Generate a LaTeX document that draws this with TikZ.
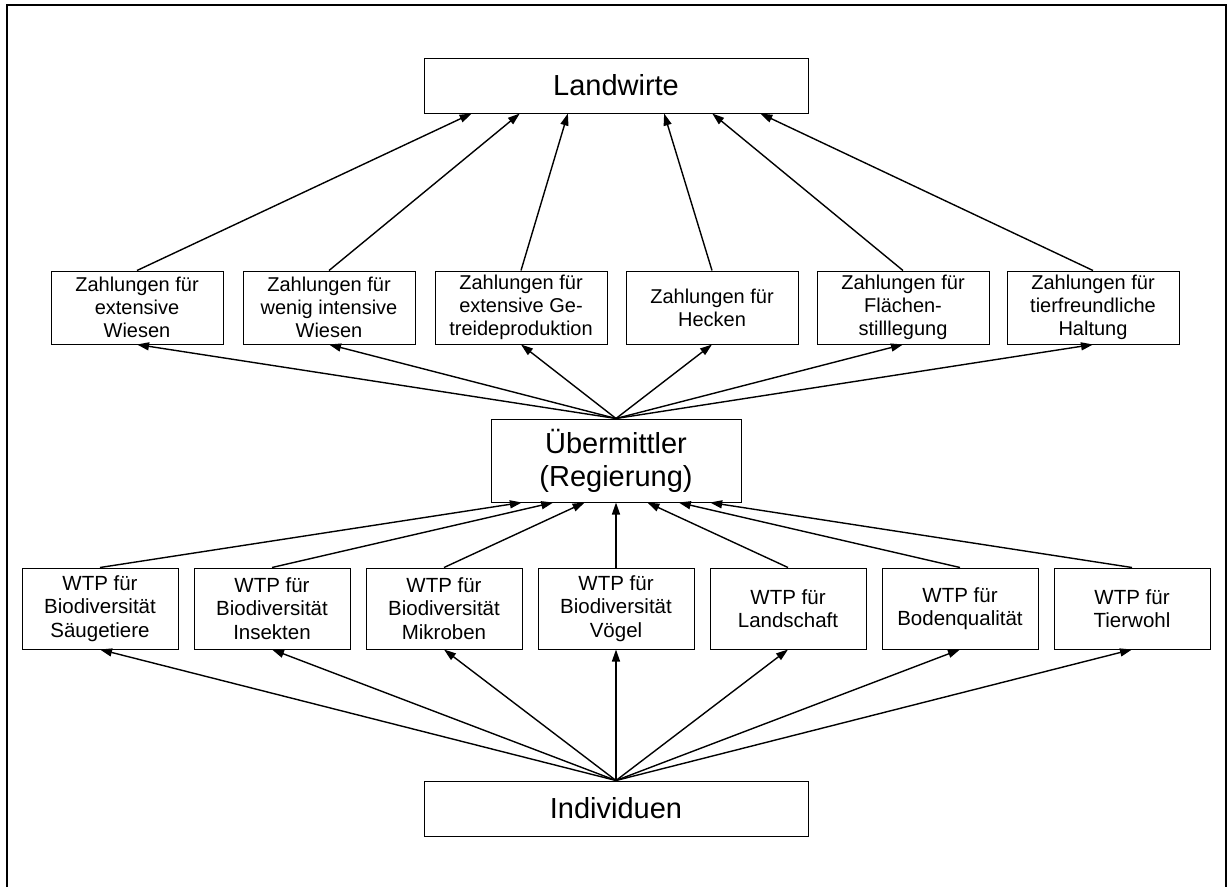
\documentclass[tikz,border=0pt]{standalone}
\usepackage{fontspec}
\setmainfont{Liberation Sans}
\usetikzlibrary{arrows.meta,calc}
\begin{document}
\begin{tikzpicture}[x=1pt,y=-1pt,
  box/.style={draw,line width=1pt,inner sep=0pt,align=center},
  bigbox/.style={box,minimum width=384pt,minimum height=55pt,font=\fontsize{29}{32}\selectfont},
  paybox/.style={box,minimum width=172pt,minimum height=73pt,font=\fontsize{20}{23}\selectfont},
  wtpbox/.style={box,minimum width=156pt,minimum height=81pt,font=\fontsize{20.5}{23.5}\selectfont},
  arr/.style={line width=1.4pt,-{Triangle[length=12pt,width=8pt]}}]
\useasboundingbox (0,0) rectangle (1227,887);
\draw[line width=2pt] (7,887) -- (7,5) -- (1226,5) -- (1226,887);

\node[bigbox] (L) at (616,85.5) {Landwirte};
\node[paybox] (Z1) at (137,307.5) {Zahlungen für\\extensive\\Wiesen};
\node[paybox] (Z2) at (329,307.5) {Zahlungen für\\wenig intensive\\Wiesen};
\node[paybox] (Z3) at (521,307.5) {Zahlungen für\\extensive Ge-\\treideproduktion};
\node[paybox] (Z4) at (712,307.5) {Zahlungen für\\Hecken};
\node[paybox] (Z5) at (903,307.5) {Zahlungen für\\Flächen-\\stilllegung};
\node[paybox] (Z6) at (1093,307.5) {Zahlungen für\\tierfreundliche\\Haltung};
\node[box,minimum width=250pt,minimum height=83pt,font=\fontsize{29}{33}\selectfont] (U) at (616,460.5) {Übermittler\\(Regierung)};
\node[wtpbox] (W1) at (100,608.5) {WTP für\\Biodiversität\\Säugetiere};
\node[wtpbox] (W2) at (272,608.5) {WTP für\\Biodiversität\\Insekten};
\node[wtpbox] (W3) at (444,608.5) {WTP für\\Biodiversität\\Mikroben};
\node[wtpbox] (W4) at (616,608.5) {WTP für\\Biodiversität\\Vögel};
\node[wtpbox] (W5) at (788,608.5) {WTP für\\Landschaft};
\node[wtpbox] (W6) at (960,608.5) {WTP für\\Bodenqualität};
\node[wtpbox] (W7) at (1132,608.5) {WTP für\\Tierwohl};
\node[bigbox] (I) at (616,808.5) {Individuen};

% arrows Zahlungen -> Landwirte
\foreach \z/\m in {Z1/1,Z2/2,Z3/3,Z4/5,Z5/6,Z6/7}{
  \coordinate (l\m) at ($(L.south west)!\m/8!(L.south east)$);
  \draw[arr] (\z.north) -- (l\m);
}
% Übermittler -> Zahlungen
\foreach \z in {Z1,Z2,Z3,Z4,Z5,Z6}{
  \draw[arr] (U.north) -- (\z.south);
}
% WTP -> Übermittler
\foreach \k in {1,...,7}{
  \coordinate (u\k) at ($(U.south west)!\k/8!(U.south east)$);
  \draw[arr] (W\k.north) -- (u\k);
}
% Individuen -> WTP
\foreach \k in {1,...,7}{
  \draw[arr] (I.north) -- (W\k.south);
}
\end{tikzpicture}
\end{document}
